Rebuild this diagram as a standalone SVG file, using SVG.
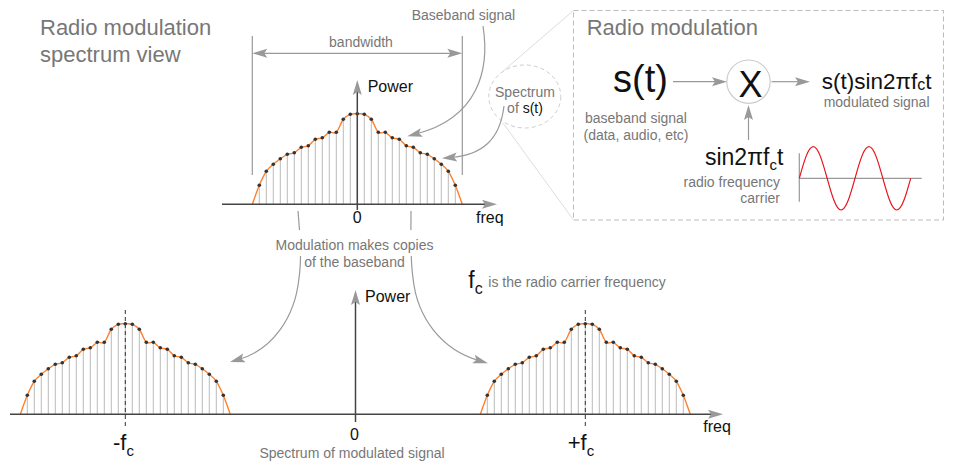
<svg xmlns="http://www.w3.org/2000/svg" xmlns:xlink="http://www.w3.org/1999/xlink" width="953" height="466" viewBox="0 0 953 466">
<style>
text{font-family:"Liberation Sans",Arial,sans-serif}
.g{fill:#777;font-size:14px}
.t{fill:#777;font-size:22px}
.k{fill:#111;font-size:16px}
.big{fill:#111}
.ax{stroke:#444;stroke-width:1.5;fill:none}
.gl{stroke:#999;stroke-width:1.2;fill:none}
.lt{stroke:#ddd;stroke-width:1;fill:none}
.stem{stroke:#bbb;stroke-width:1;fill:none}
.curve{stroke:#ff7f2a;stroke-width:1.4;fill:none}
.dot{fill:#333}
.dash{stroke:#333;stroke-width:1;stroke-dasharray:4 3;fill:none}
.arr{marker-end:url(#ah)}
</style>
<defs>
<marker id="ah" viewBox="-7 -6 17 12" refX="0" refY="0" markerWidth="17" markerHeight="12" markerUnits="userSpaceOnUse" orient="auto-start-reverse">
<path d="M9,0 L-6,-4.5 L-3,0 L-6,4.5 Z" fill="#999"/>
</marker>
<g id="spec">
<path class="stem" d="M-98,-19V0M-91,-33V0M-84,-40V0M-77,-45.5V0M-70,-50V0M-63,-51.5V0M-56,-57V0M-49,-58.5V0M-42,-65V0M-35,-66.5V0M-28,-72V0M-21,-72V0M-14,-85V0M-7,-90V0M0,-90.5V0M7,-90V0M14,-85V0M21,-72V0M28,-72V0M35,-66.5V0M42,-65V0M49,-58.5V0M56,-57V0M63,-51.5V0M70,-50V0M77,-45.5V0M84,-40V0M91,-33V0M98,-19V0"/>
<path class="curve" d="M-105,0 C-103.83,-3.17 -100.33,-13.5 -98,-19 S-93.33,-29.5 -91,-33 S-86.33,-37.92 -84,-40 S-79.33,-43.83 -77,-45.5 S-72.33,-49 -70,-50 S-65.33,-50.33 -63,-51.5 S-58.33,-55.83 -56,-57 S-51.33,-57.17 -49,-58.5 S-44.33,-63.67 -42,-65 S-37.33,-65.33 -35,-66.5 S-30.33,-71.08 -28,-72 S-23.33,-69.83 -21,-72 S-16.33,-82 -14,-85 S-9.33,-89.08 -7,-90 S-2.33,-90.5 0,-90.5 S4.67,-90.92 7,-90 S11.67,-88 14,-85 S18.67,-74.17 21,-72 S25.67,-72.92 28,-72 S32.67,-67.67 35,-66.5 S39.67,-66.33 42,-65 S46.67,-59.83 49,-58.5 S53.67,-58.17 56,-57 S60.67,-52.67 63,-51.5 S67.67,-51 70,-50 S74.67,-47.17 77,-45.5 S81.67,-42.08 84,-40 S88.67,-36.5 91,-33 S95.67,-24.5 98,-19 S103.83,-3.17 105,0"/>
<g class="dot">
<circle cx="-98" cy="-19" r="1.8"/><circle cx="-91" cy="-33" r="1.8"/><circle cx="-84" cy="-40" r="1.8"/><circle cx="-77" cy="-45.5" r="1.8"/><circle cx="-70" cy="-50" r="1.8"/><circle cx="-63" cy="-51.5" r="1.8"/><circle cx="-56" cy="-57" r="1.8"/><circle cx="-49" cy="-58.5" r="1.8"/><circle cx="-42" cy="-65" r="1.8"/><circle cx="-35" cy="-66.5" r="1.8"/><circle cx="-28" cy="-72" r="1.8"/><circle cx="-21" cy="-72" r="1.8"/><circle cx="-14" cy="-85" r="1.8"/><circle cx="-7" cy="-90" r="1.8"/><circle cx="0" cy="-90.5" r="1.8"/><circle cx="7" cy="-90" r="1.8"/><circle cx="14" cy="-85" r="1.8"/><circle cx="21" cy="-72" r="1.8"/><circle cx="28" cy="-72" r="1.8"/><circle cx="35" cy="-66.5" r="1.8"/><circle cx="42" cy="-65" r="1.8"/><circle cx="49" cy="-58.5" r="1.8"/><circle cx="56" cy="-57" r="1.8"/><circle cx="63" cy="-51.5" r="1.8"/><circle cx="70" cy="-50" r="1.8"/><circle cx="77" cy="-45.5" r="1.8"/><circle cx="84" cy="-40" r="1.8"/><circle cx="91" cy="-33" r="1.8"/><circle cx="98" cy="-19" r="1.8"/>
</g>
</g>
</defs>
<rect width="953" height="466" fill="#fff"/>

<g id="title">
<text class="t" x="40" y="35">Radio modulation</text>
<text class="t" x="40" y="61.7">spectrum view</text>
</g>

<g id="baseband-spectrum">
<line class="gl" x1="252.3" y1="36" x2="252.3" y2="175"/>
<line class="gl" x1="462.3" y1="36" x2="462.3" y2="175"/>
<line class="gl" x1="261.3" y1="53.3" x2="453.3" y2="53.3" marker-start="url(#ah)" marker-end="url(#ah)"/>
<text class="g" x="361" y="47" text-anchor="middle">bandwidth</text>
<use xlink:href="#spec" href="#spec" transform="translate(357.3,204.3)"/>
<line class="ax arr" x1="222" y1="204.3" x2="488" y2="204.3"/>
<line class="ax arr" x1="357.3" y1="210" x2="357.3" y2="89"/>
<text class="k" x="367.7" y="92">Power</text>
<text class="k" x="357.3" y="223.3" text-anchor="middle">0</text>
<text class="k" x="476" y="223.3">freq</text>
</g>

<g id="baseband-label">
<text class="g" x="411.7" y="20">Baseband signal</text>
</g>

<g id="spectrum-of-s">
<ellipse cx="524.8" cy="96.5" rx="36" ry="31.5" fill="none" stroke="#ccc" stroke-width="1" stroke-dasharray="4 3"/>
<text class="g" x="525" y="96.7" text-anchor="middle">Spectrum</text>
<text class="g" x="525" y="113.3" text-anchor="middle">of <tspan fill="#111">s(t)</tspan></text>
</g>

<g id="modulation-box">
<rect x="573.5" y="10.5" width="370" height="209.5" fill="none" stroke="#bbb" stroke-width="1" stroke-dasharray="5 3"/>
<text class="t" x="586.7" y="35">Radio modulation</text>
<g id="st">
<text class="big" x="613" y="91.5" font-size="38">s(t)</text>
<text class="g" x="636" y="123.3" text-anchor="middle">baseband signal</text>
<text class="g" x="636" y="140" text-anchor="middle">(data, audio, etc)</text>
</g>
<g id="mixer">
<circle cx="748.5" cy="81.7" r="21.7" fill="none" stroke="#ccc" stroke-width="1.2"/>
<text class="big" x="750.5" y="96.7" font-size="36" text-anchor="middle">X</text>
</g>
<g id="output">
<text class="big" x="821.7" y="88.5" font-size="22.5">s(t)sin2πf<tspan font-size="16" dy="1">c</tspan><tspan dy="-1">t</tspan></text>
<text class="g" x="929.5" y="106.5" text-anchor="end">modulated signal</text>
</g>
<g id="carrier">
<text class="big" x="783.3" y="165" font-size="23" text-anchor="end">sin2πf<tspan font-size="15" dy="5">c</tspan><tspan dy="-5">t</tspan></text>
<text class="g" x="780" y="186.7" text-anchor="end">radio frequency</text>
<text class="g" x="780" y="203.3" text-anchor="end">carrier</text>
<line class="gl" x1="799.3" y1="153.3" x2="799.3" y2="201.7"/>
<line class="gl" x1="799.3" y1="178.3" x2="921.7" y2="178.3"/>
<path d="M799.3,178.3 c4.54,-16.24 8.885,-31.7 13.925,-31.7 s9.385,15.46 13.925,31.7 s8.885,31.7 13.925,31.7 s9.385,-15.46 13.925,-31.7 s8.885,-31.7 13.925,-31.7 s9.385,15.46 13.925,31.7 s8.885,31.7 13.925,31.7 s9.385,-15.46 13.925,-31.7" fill="none" stroke="#e8141c" stroke-width="1.2"/>
</g>
</g>

<g id="connectors">
<line class="lt" x1="502" y1="72" x2="573.5" y2="10.5"/>
<line class="lt" x1="503" y1="123" x2="573.5" y2="220"/>
<path class="gl arr" d="M483,26 C490,70 478,118 416,134"/>
<path class="gl arr" d="M504,106 C500,140 482,155 451,157.5"/>
<line class="gl arr" x1="673" y1="81.7" x2="718" y2="81.7"/>
<line class="gl arr" x1="771.5" y1="81.7" x2="801" y2="81.7"/>
<line class="gl arr" x1="748.5" y1="140" x2="748.5" y2="114"/>
<path class="gl" d="M298,211 C300,235 302,258 299,278 C295,318 272,350 238.6,359.5" marker-end="url(#ah)"/>
<path class="gl" d="M411,211 C411,235 410,258 413,278 C417,318 442,350 479.3,360.7" marker-end="url(#ah)"/>
</g>

<g id="middle-text">
<rect x="272" y="230" width="166" height="26" fill="#fff"/>
<text class="g" x="354.5" y="250" text-anchor="middle">Modulation makes copies</text>
<text class="g" x="354.5" y="266.7" text-anchor="middle">of the baseband</text>
</g>

<g id="fc-note">
<text class="big" x="468.3" y="288.3" font-size="23">f<tspan font-size="16" dy="6">c</tspan></text>
<text class="g" x="488.3" y="286.7">is the radio carrier frequency</text>
</g>

<g id="modulated-spectrum">
<use xlink:href="#spec" href="#spec" transform="translate(125.3,414.3)"/>
<use xlink:href="#spec" href="#spec" transform="translate(585.3,414.3)"/>
<line class="dash" x1="125.3" y1="310" x2="125.3" y2="427"/>
<line class="dash" x1="585.3" y1="310" x2="585.3" y2="427"/>
<line class="ax arr" x1="10" y1="414.3" x2="714" y2="414.3"/>
<line class="ax arr" x1="355.5" y1="422" x2="355.5" y2="299"/>
<text class="k" x="365" y="301.7">Power</text>
<text class="k" x="354.5" y="440" text-anchor="middle">0</text>
<text class="k" x="703.3" y="432">freq</text>
<text class="big" x="113" y="450" font-size="22">-f<tspan font-size="15" dy="6">c</tspan></text>
<text class="big" x="567.7" y="450" font-size="22">+f<tspan font-size="15" dy="6">c</tspan></text>
<text class="g" x="352" y="458.3" text-anchor="middle">Spectrum of modulated signal</text>
</g>
</svg>
